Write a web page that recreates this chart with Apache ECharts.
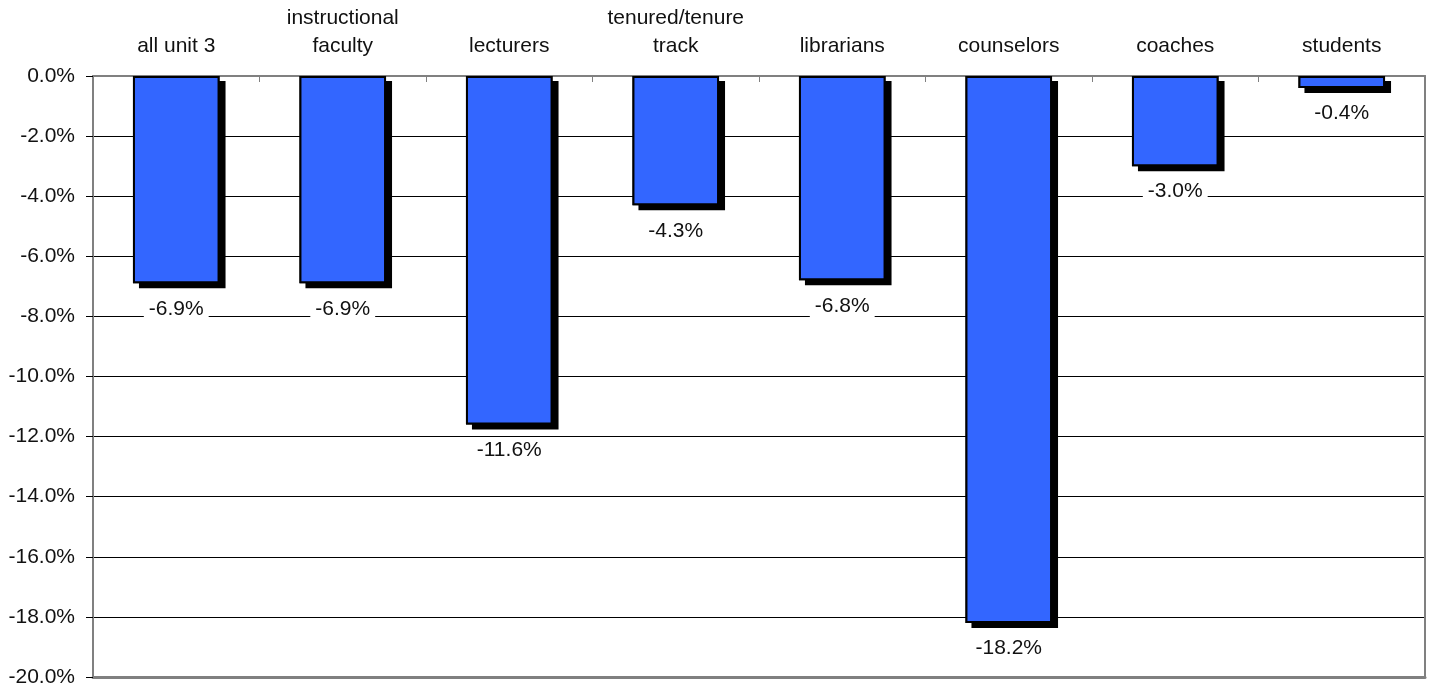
<!DOCTYPE html>
<html><head><meta charset="utf-8">
<script src="https://cdn.jsdelivr.net/npm/echarts@6/dist/echarts.min.js"></script>
<style>html,body{margin:0;padding:0;background:#fff}#c{width:1432px;height:690px}</style>
</head><body><div id="c"></div>
<script>
const categories = ['all unit 3', 'instructional\nfaculty', 'lecturers', 'tenured/tenure\ntrack', 'librarians', 'counselors', 'coaches', 'students'];
const values = [-6.9, -6.9, -11.6, -4.3, -6.8, -18.2, -3.0, -0.4];
const yMin = -20, yMax = 0, yStep = 2;

const chart = echarts.init(document.getElementById('c'));
const font = 'Liberation Sans, Arial, sans-serif';
chart.setOption({
  animation: false,
  grid: { left: 93, right: 7, top: 76, bottom: 13 },
  xAxis: [{
    type: 'category', position: 'top', data: categories,
    axisLine: { onZero: false, lineStyle: { color: '#808080', width: 2 } },
    axisTick: { show: true, inside: true, length: 6, lineStyle: { color: '#808080' } },
    axisLabel: { color: '#111', fontSize: 21, fontFamily: font, lineHeight: 28, margin: 16, interval: 0 }
  }, {
    type: 'category', position: 'bottom', data: categories,
    axisLine: { onZero: false, lineStyle: { color: '#808080', width: 3 } },
    axisTick: { show: false }, axisLabel: { show: false }
  }],
  yAxis: [{
    type: 'value', min: yMin, max: yMax, interval: yStep,
    axisLine: { show: true, onZero: false, lineStyle: { color: '#808080', width: 2 } },
    axisTick: { show: true, length: 7, lineStyle: { color: '#000' } },
    splitLine: { show: true, lineStyle: { color: '#000', width: 1 } },
    axisLabel: { color: '#111', fontSize: 21, fontFamily: font, margin: 18, formatter: v => v.toFixed(1) + '%' }
  }, {
    type: 'value', position: 'right', min: yMin, max: yMax, interval: yStep,
    axisLine: { show: true, onZero: false, lineStyle: { color: '#808080', width: 2 } },
    axisTick: { show: false }, splitLine: { show: false }, axisLabel: { show: false }
  }],
  series: [{
    type: 'bar', data: values, xAxisIndex: 0, yAxisIndex: 0,
    barCategoryGap: '48%', silent: true,
    itemStyle: { color: '#000', shadowColor: '#000', shadowBlur: 0, shadowOffsetX: 6, shadowOffsetY: 5 }
  }, {
    type: 'bar', data: values, xAxisIndex: 0, yAxisIndex: 0,
    barCategoryGap: '48%', barGap: '-100%',
    itemStyle: { color: '#3366FF', borderColor: '#000', borderWidth: 2 },
    label: { show: true, position: 'bottom', distance: 14, color: '#111', fontSize: 21, fontFamily: font,
      backgroundColor: '#fff', padding: [1, 5], formatter: p => p.value.toFixed(1) + '%' }
  }]
});
</script></body></html>
